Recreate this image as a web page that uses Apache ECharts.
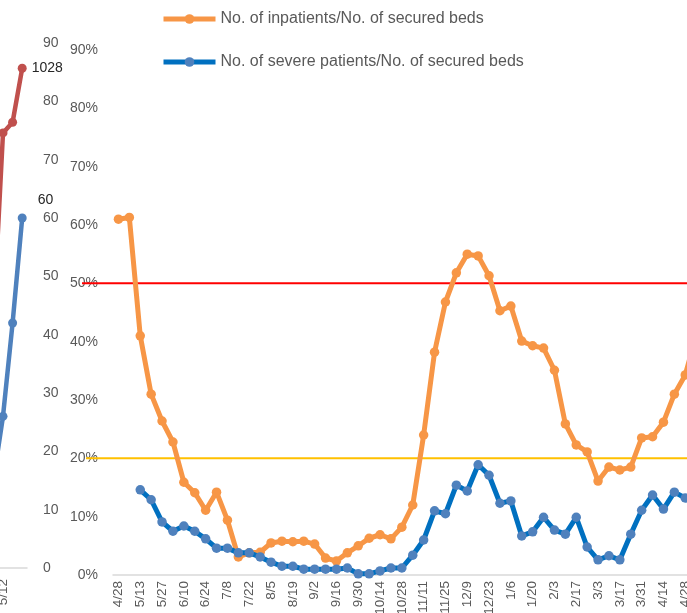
<!DOCTYPE html>
<html>
<head>
<meta charset="utf-8">
<script src="https://cdn.jsdelivr.net/npm/echarts@6/dist/echarts.min.js"></script>
<style>
html,body{margin:0;padding:0;background:#fff;}
#c{width:687px;height:613px;}
</style>
</head>
<body>
<div id="c"></div>
<script>
// ---- data ----
const mainDates = ['4/28','5/6','5/13','5/20','5/27','6/3','6/10','6/17','6/24','7/1','7/8','7/15','7/22','7/29','8/5','8/12','8/19','8/26','9/2','9/9','9/16','9/23','9/30','10/7','10/14','10/21','10/28','11/4','11/11','11/18','11/25','12/2','12/9','12/16','12/23','12/30','1/6','1/13','1/20','1/27','2/3','2/10','2/17','2/24','3/3','3/10','3/17','3/24','3/31','4/7','4/14','4/21','4/28','5/5'];
const inpatientRatio = [61.0,61.3,41.0,31.0,26.4,22.8,15.9,14.1,11.1,14.2,9.4,3.1,3.8,3.9,5.5,5.8,5.7,5.8,5.3,2.9,2.4,3.8,5.0,6.3,6.9,6.2,8.2,12.0,24.0,38.2,46.8,51.8,55.0,54.7,51.3,45.3,46.1,40.1,39.3,38.9,35.1,25.9,22.3,21.1,16.1,18.5,18.0,18.5,23.5,23.7,26.2,31.0,34.3,41.0];
const severeRatio = [null,null,14.6,12.9,9.1,7.5,8.4,7.5,6.2,4.6,4.6,3.8,3.8,3.1,2.2,1.5,1.5,1.0,1.0,1.0,1.0,1.2,0.2,0.2,0.7,1.2,1.2,3.4,6.0,11.0,10.5,15.4,14.4,18.9,17.1,12.3,12.7,6.7,7.4,9.9,7.7,7.0,9.9,4.8,2.6,3.3,2.6,7.0,11.1,13.7,11.3,14.2,13.2,13.0];
const mainTicks = [0,10,20,30,40,50,60,70,80,90];
const limitHigh = [50,50];
const limitLow = [20,20];

const leftDates = ['5/11','5/12','5/13','5/14'];
const leftRed = [510,895,917,1028];
const leftBlue = [15,26,42,60];

const seriesNames = ['No. of inpatients/No. of secured beds','No. of severe patients/No. of secured beds'];

// ---- chart ----
const FONT = '"Liberation Sans", Arial, sans-serif';
const GRAY = '#595959';
const chart = echarts.init(document.getElementById('c'), null, {renderer:'canvas'});
const G = {outerBoundsMode:'none', containLabel:false};
const opt = {
  animation:false,
  backgroundColor:'#fff',
  textStyle:{fontFamily:FONT},
  legend:{
    data:seriesNames,
    orient:'vertical',
    left:161, top:11, padding:0,
    itemWidth:52, itemHeight:12, itemGap:27,
    lineStyle:{width:5},
    textStyle:{fontSize:16,color:GRAY,fontFamily:FONT}
  },
  grid:[
    Object.assign({left:113, top:50, width:588.6, height:525}, G),      // main
    Object.assign({left:-11.4, top:43, width:38.4, height:525}, G),     // left partial chart
    Object.assign({left:82, top:50, width:620, height:525}, G),         // red limit line
    Object.assign({left:86, top:50, width:616, height:525}, G)          // yellow limit line
  ],
  xAxis:[
    {type:'category', gridIndex:0, data:mainDates, boundaryGap:true,
     axisLine:{lineStyle:{color:'#D9D9D9',width:1.5}}, axisTick:{show:false},
     axisLabel:{rotate:90, interval:1, margin:6, fontSize:13.5, color:GRAY, fontFamily:FONT}},
    {type:'category', gridIndex:1, data:leftDates, boundaryGap:true,
     axisLine:{lineStyle:{color:'#D9D9D9',width:1.5}}, axisTick:{show:false},
     axisLabel:{rotate:90, interval:function(i){return i===1;}, margin:11, fontSize:13.5, color:GRAY, fontFamily:FONT}},
    {type:'category', gridIndex:2, data:['a','b'], boundaryGap:false, show:false},
    {type:'category', gridIndex:3, data:['a','b'], boundaryGap:false, show:false}
  ],
  yAxis:[
    {type:'value', gridIndex:0, min:0, max:90, interval:10,
     axisLine:{show:false}, axisTick:{show:false}, splitLine:{show:false},
     axisLabel:{formatter:'{value}%', margin:15, fontSize:14, color:GRAY, fontFamily:FONT}},
    {type:'value', gridIndex:1, position:'right', min:0, max:90, interval:10,
     axisLine:{show:false}, axisTick:{show:false}, splitLine:{show:false},
     axisLabel:{margin:16, fontSize:14, color:GRAY, fontFamily:FONT}},
    {type:'value', gridIndex:1, min:0, max:1080, show:false, splitLine:{show:false}},
    {type:'value', gridIndex:2, min:0, max:90, show:false, splitLine:{show:false}},
    {type:'value', gridIndex:3, min:0, max:90, show:false, splitLine:{show:false}}
  ],
  series:[
    {name:'limitHigh', type:'line', xAxisIndex:2, yAxisIndex:3, data:limitHigh, symbol:'none', silent:true, z:1,
     lineStyle:{color:'#FF0000', width:2}},
    {name:'limitLow', type:'line', xAxisIndex:3, yAxisIndex:4, data:limitLow, symbol:'none', silent:true, z:1,
     lineStyle:{color:'#FFC000', width:2}},
    {name:seriesNames[0], type:'line', xAxisIndex:0, yAxisIndex:0, data:inpatientRatio, z:3,
     symbol:'circle', symbolSize:9.5, showAllSymbol:true,
     lineStyle:{color:'#F79646', width:5}, itemStyle:{color:'#F79646'}},
    {name:seriesNames[1], type:'line', xAxisIndex:0, yAxisIndex:0, data:severeRatio, z:4,
     symbol:'circle', symbolSize:9.5, showAllSymbol:true,
     lineStyle:{color:'#0070C0', width:5}, itemStyle:{color:'#4F81BD'}},
    {name:'leftRed', type:'line', xAxisIndex:1, yAxisIndex:2, data:leftRed, z:3,
     symbol:'circle', symbolSize:9, showAllSymbol:true,
     lineStyle:{color:'#C0504D', width:4.5}, itemStyle:{color:'#C0504D'},
     label:{show:true, position:'right', distance:5, fontSize:14, color:'#262626', fontFamily:FONT,
       formatter:function(p){return p.dataIndex===leftRed.length-1 ? String(p.value) : '';}}},
    {name:'leftBlue', type:'line', xAxisIndex:1, yAxisIndex:1, data:leftBlue, z:3,
     symbol:'circle', symbolSize:9, showAllSymbol:true,
     lineStyle:{color:'#4F81BD', width:4.5}, itemStyle:{color:'#4F81BD'},
     label:{show:true, position:'right', distance:11, offset:[0,-18], fontSize:14, color:'#262626', fontFamily:FONT,
       formatter:function(p){return p.dataIndex===leftBlue.length-1 ? String(p.value) : '';}}}
  ]
};
chart.setOption(opt);
</script>
</body>
</html>
